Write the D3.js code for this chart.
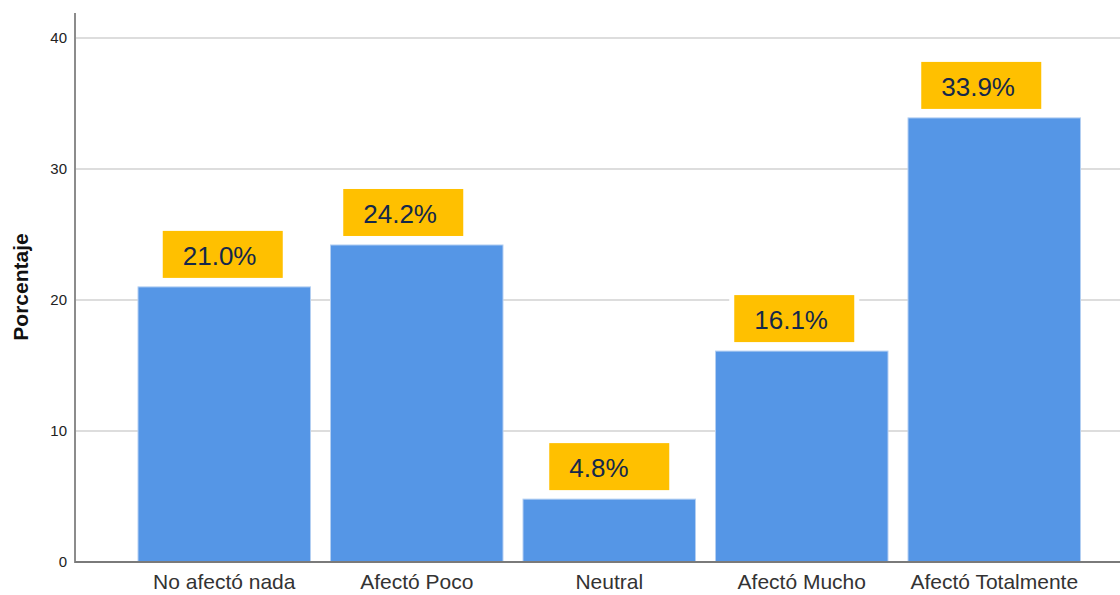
<!DOCTYPE html>
<html>
<head>
  <meta charset="utf-8">
  <script src="https://cdn.jsdelivr.net/npm/d3@7/dist/d3.min.js"></script>
  <style>
    body { margin: 0; background: #fff; }
    text { font-family: Arial, "Liberation Sans", sans-serif; }
  </style>
</head>
<body>
  <script>
    var width = 1120, height = 595;

    var categories = ["No afectó nada", "Afectó Poco", "Neutral", "Afectó Mucho", "Afectó Totalmente"];
    var values = [21.0, 24.2, 4.8, 16.1, 33.9];
    var yTicks = [0, 10, 20, 30, 40];
    // label boxes were nudged by hand in the original, px from bar centre
    var labelShift = [-1.5, -13.5, 0, -7.5, -13];

    var data = categories.map((c, i) => ({cat: c, val: values[i], dx: labelShift[i]}));

    var svg = d3.select("body")
      .append("svg")
      .attr("width", width)
      .attr("height", height);

    var x = d3.scaleBand()
      .domain(categories)
      .range([128, 1090.5])
      .paddingInner(0.104)
      .paddingOuter(0.052);

    var y = d3.scaleLinear()
      .domain([0, 40])
      .range([562, 38]);

    // gridlines
    svg.append("g")
      .selectAll("line")
      .data(yTicks.slice(1))
      .enter().append("line")
      .attr("x1", 76)
      .attr("x2", width)
      .attr("y1", d => y(d))
      .attr("y2", d => y(d))
      .attr("stroke", "#d2d2d2")
      .attr("stroke-width", 1.5);

    // y axis
    var yAxis = svg.append("g")
      .attr("transform", "translate(75,0)")
      .call(d3.axisLeft(y).tickValues(yTicks).tickSize(0).tickPadding(8));
    yAxis.select(".domain").remove();
    yAxis.selectAll("text")
      .style("font-size", "15px")
      .attr("fill", "#222");

    svg.append("line")
      .attr("x1", 75).attr("x2", 75)
      .attr("y1", 13).attr("y2", 563)
      .attr("stroke", "#8c8c8c")
      .attr("stroke-width", 2);

    // bars
    svg.append("g")
      .selectAll("rect")
      .data(data)
      .enter().append("rect")
      .attr("x", d => x(d.cat))
      .attr("y", d => y(d.val))
      .attr("width", x.bandwidth())
      .attr("height", d => y(0) - y(d.val))
      .attr("fill", "#5596e6")
      .attr("stroke", "#b3cff2")
      .attr("stroke-width", 1);

    // x axis
    svg.append("line")
      .attr("x1", 75).attr("x2", width)
      .attr("y1", 562).attr("y2", 562)
      .attr("stroke", "#7a7a7a")
      .attr("stroke-width", 2);

    var xAxis = svg.append("g")
      .attr("transform", "translate(0,562)")
      .call(d3.axisBottom(x).tickSize(0).tickPadding(12));
    xAxis.select(".domain").remove();
    xAxis.selectAll("text")
      .style("font-size", "21px")
      .attr("fill", "#333");

    // value labels
    var lab = svg.append("g")
      .selectAll("g")
      .data(data)
      .enter().append("g")
      .attr("transform", d => "translate(" + (x(d.cat) + x.bandwidth() / 2 + d.dx - 60) + "," + (y(d.val) - 56) + ")");

    lab.append("rect")
      .attr("x", -5).attr("y", -5)
      .attr("width", 130)
      .attr("height", 57)
      .attr("fill", "#fff");

    lab.append("rect")
      .attr("width", 120)
      .attr("height", 47)
      .attr("fill", "#ffc000");

    lab.append("text")
      .attr("x", 20)
      .attr("y", 34)
      .style("font-size", "26px")
      .attr("fill", "#14284b")
      .text(d => d.val.toFixed(1) + "%");

    // y title
    svg.append("text")
      .attr("transform", "translate(28,287) rotate(-90)")
      .attr("text-anchor", "middle")
      .style("font-size", "21px")
      .style("font-weight", "bold")
      .attr("fill", "#111")
      .text("Porcentaje");
  </script>
</body>
</html>
